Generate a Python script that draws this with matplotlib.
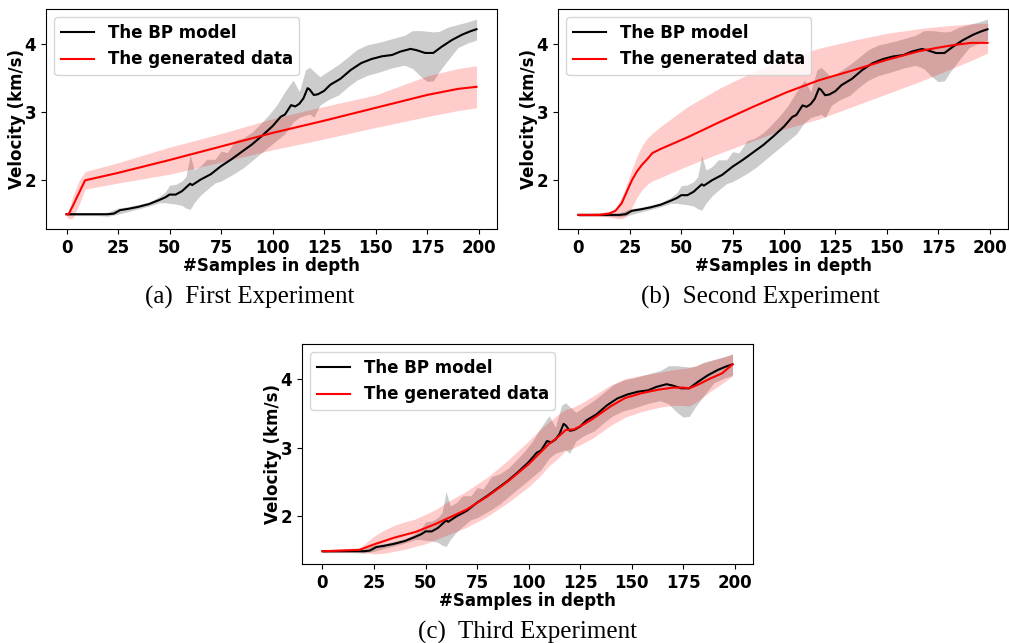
import matplotlib
matplotlib.use("Agg")
import matplotlib.pyplot as plt

# BP model velocity profile (shared by all three experiments)
bp_x = [0, 10, 20, 23, 26, 30, 35, 40, 45, 48, 50, 53, 56, 60, 61, 65, 70, 75,
        80, 85, 90, 95, 100, 104, 106, 109, 111, 113, 115, 117, 118, 120, 122,
        125, 128, 133, 138, 143, 148, 153, 158, 162, 167, 170, 174, 178, 182,
        187, 192, 196, 199]
bp_v = [1.49, 1.49, 1.49, 1.50, 1.55, 1.57, 1.60, 1.64, 1.70, 1.74, 1.78, 1.78,
        1.83, 1.94, 1.92, 2.00, 2.08, 2.20, 2.30, 2.41, 2.52, 2.65, 2.79, 2.93,
        2.96, 3.10, 3.08, 3.12, 3.20, 3.35, 3.33, 3.25, 3.26, 3.31, 3.40, 3.49,
        3.62, 3.72, 3.78, 3.82, 3.84, 3.89, 3.93, 3.91, 3.87, 3.87, 3.96, 4.06,
        4.14, 4.19, 4.22]

# spread of the BP model
bp_band_x = [0, 15, 20, 25, 30, 40, 45, 48, 50, 53, 56, 58, 60, 62, 65, 68, 72,
             75, 78, 82, 86, 90, 94, 98, 102, 106, 110, 113, 116, 118, 120, 123,
             127, 132, 137, 141, 146, 152, 158, 164, 168, 172, 175, 178, 181,
             185, 190, 195, 199]
bp_hi = [1.51, 1.51, 1.52, 1.58, 1.60, 1.67, 1.75, 1.82, 1.92, 1.93, 1.98, 2.05,
         2.36, 2.15, 2.20, 2.30, 2.30, 2.42, 2.40, 2.58, 2.62, 2.70, 2.82, 2.95,
         3.10, 3.30, 3.47, 3.30, 3.62, 3.66, 3.60, 3.52, 3.60, 3.70, 3.82, 3.92,
         3.99, 4.03, 4.08, 4.13, 4.20, 4.20, 4.19, 4.18, 4.19, 4.25, 4.29, 4.33,
         4.37]
bp_lo = [1.47, 1.47, 1.46, 1.49, 1.53, 1.61, 1.66, 1.66, 1.65, 1.64, 1.62, 1.58,
         1.56, 1.66, 1.77, 1.85, 1.95, 1.98, 2.03, 2.10, 2.18, 2.28, 2.38, 2.48,
         2.58, 2.68, 2.85, 2.92, 2.95, 2.97, 2.92, 3.10, 3.18, 3.25, 3.38, 3.47,
         3.54, 3.59, 3.65, 3.69, 3.64, 3.52, 3.45, 3.46, 3.60, 3.76, 3.95, 4.02,
         4.06]

# generated data, first experiment
gen1_x = [0, 1, 3, 6, 9, 25, 50, 75, 100, 125, 150, 175, 190, 199]
gen1_v = [1.49, 1.49, 1.61, 1.80, 1.99, 2.10, 2.29, 2.49, 2.69, 2.87, 3.06,
          3.25, 3.34, 3.37]
gen1_hi = [1.50, 1.53, 1.75, 1.98, 2.12, 2.25, 2.48, 2.68, 2.90, 3.08, 3.25,
           3.53, 3.64, 3.68]
gen1_lo = [1.47, 1.42, 1.43, 1.62, 1.86, 1.95, 2.08, 2.26, 2.44, 2.60, 2.77,
           2.93, 3.02, 3.06]

# generated data, second experiment
gen2_x = [0, 10, 15, 18, 21, 23.5, 26, 28.5, 31, 33.5, 36, 40, 53, 69, 85, 101,
          117, 134, 150, 166, 175, 183, 191, 199]
gen2_v = [1.49, 1.49, 1.51, 1.55, 1.66, 1.83, 2.00, 2.13, 2.23, 2.31, 2.40,
          2.46, 2.63, 2.86, 3.08, 3.29, 3.47, 3.62, 3.77, 3.90, 3.95, 3.99,
          4.02, 4.02]
gen2_hi = [1.51, 1.52, 1.54, 1.58, 1.75, 1.94, 2.16, 2.36, 2.51, 2.62, 2.69,
           2.79, 3.08, 3.36, 3.59, 3.79, 3.94, 4.06, 4.16, 4.23, 4.26, 4.28,
           4.30, 4.31]
gen2_lo = [1.47, 1.47, 1.46, 1.44, 1.43, 1.47, 1.60, 1.75, 1.86, 1.94, 1.99,
           2.04, 2.21, 2.40, 2.58, 2.76, 2.90, 3.09, 3.27, 3.45, 3.56, 3.66,
           3.76, 3.87]

# generated data, third experiment
gen3_x = [0, 18, 25, 30, 35, 40, 45, 50, 55, 60, 70, 80, 90, 100, 105, 110,
          114, 118, 122, 126, 131, 140, 147, 155, 163, 170, 175, 178, 182, 188,
          194, 199]
gen3_v = [1.49, 1.51, 1.59, 1.64, 1.69, 1.73, 1.77, 1.83, 1.89, 1.96, 2.10,
          2.29, 2.51, 2.76, 2.91, 3.06, 3.15, 3.26, 3.27, 3.33, 3.42, 3.61,
          3.73, 3.80, 3.85, 3.88, 3.88, 3.87, 3.92, 4.01, 4.09, 4.22]
gen3_hi = [1.51, 1.54, 1.71, 1.80, 1.87, 1.92, 1.96, 2.03, 2.10, 2.20, 2.37,
           2.57, 2.82, 3.10, 3.25, 3.38, 3.48, 3.56, 3.60, 3.66, 3.75, 3.92,
           4.01, 4.06, 4.10, 4.14, 4.16, 4.17, 4.21, 4.27, 4.32, 4.37]
gen3_lo = [1.47, 1.48, 1.45, 1.46, 1.49, 1.52, 1.56, 1.60, 1.66, 1.72, 1.84,
           2.00, 2.20, 2.43, 2.57, 2.74, 2.84, 2.96, 3.00, 3.06, 3.14, 3.33,
           3.45, 3.53, 3.59, 3.62, 3.62, 3.61, 3.68, 3.82, 3.94, 4.05]

captions = ["(a)  First Experiment", "(b)  Second Experiment",
            "(c)  Third Experiment"]

plt.rcParams['font.family'] = 'DejaVu Sans'
plt.rcParams['font.weight'] = 'bold'
plt.rcParams['font.size'] = 12

fig = plt.figure(figsize=(10.09, 6.43), dpi=100)
ax_a = fig.add_axes([0.0456, 0.6439, 0.447, 0.342])
ax_b = fig.add_axes([0.553, 0.6439, 0.446, 0.342])
ax_c = fig.add_axes([0.2993, 0.1229, 0.447, 0.342])


def draw_panel(ax, gx, gv, glo, ghi):
    ax.fill_between(bp_band_x, bp_lo, bp_hi, color='gray', alpha=0.4, lw=0)
    ax.fill_between(gx, glo, ghi, color='red', alpha=0.2, lw=0)
    ax.plot(bp_x, bp_v, color='black', lw=1.5, label='The BP model')
    ax.plot(gx, gv, color='red', lw=1.5, label='The generated data')
    ax.set_xticks([0, 25, 50, 75, 100, 125, 150, 175, 200])
    ax.set_yticks([2, 3, 4])
    ax.set_xlabel('#Samples in depth', fontweight='bold', labelpad=0)
    ax.set_ylabel('Velocity (km/s)', fontweight='bold', labelpad=-1)
    ax.legend(loc='upper left', prop={'weight': 'bold', 'size': 12})


draw_panel(ax_a, gen1_x, gen1_v, gen1_lo, gen1_hi)
draw_panel(ax_b, gen2_x, gen2_v, gen2_lo, gen2_hi)
draw_panel(ax_c, gen3_x, gen3_v, gen3_lo, gen3_hi)

cap_font = dict(family='Liberation Serif', size=18, weight='normal',
                ha='center', va='center')
fig.text(250 / 1009, 1 - 297 / 643, captions[0], **cap_font)
fig.text(760 / 1009, 1 - 297 / 643, captions[1], **cap_font)
fig.text(527 / 1009, 1 - 632 / 643, captions[2], **cap_font)

fig.savefig('out.png', dpi=100)
